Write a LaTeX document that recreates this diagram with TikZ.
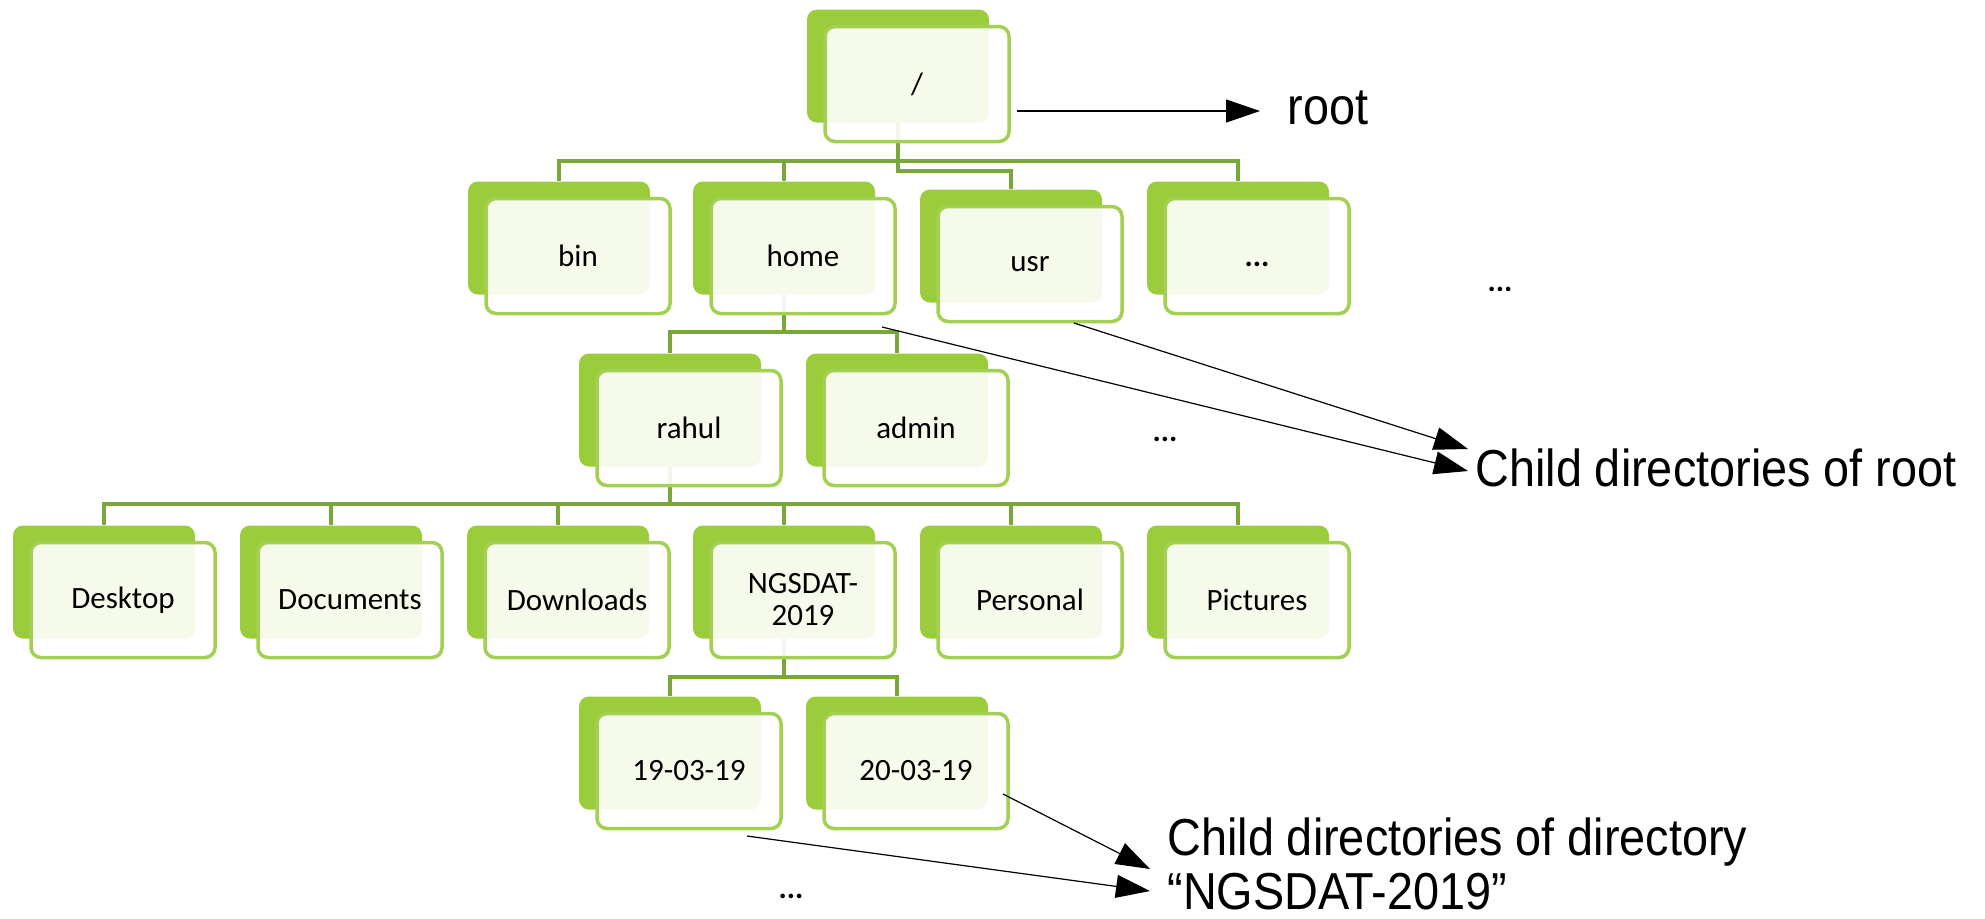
\documentclass[tikz,border=0pt]{standalone}
\usepackage{fontspec}
\setmainfont{Liberation Sans}
\newfontfamily\carlito{Carlito}
\newfontfamily\annot[FakeStretch=0.9]{Liberation Sans}
\usetikzlibrary{arrows.meta,backgrounds}
\definecolor{backgreen}{RGB}{155,204,60}
\definecolor{bordergreen}{RGB}{163,207,82}
\definecolor{linegreen}{RGB}{122,168,56}
\tikzset{
  backbox/.style={fill=backgreen, rounded corners=5pt, minimum width=91pt, minimum height=56.5pt, inner sep=0pt},
  frontbox/.style={draw=bordergreen, line width=1.75pt, fill=white, fill opacity=0.9, text opacity=1,
    rounded corners=5pt, minimum width=92pt, minimum height=57.5pt, inner sep=0pt, align=center,
    font=\carlito\fontsize{15.5}{16}\selectfont},
  conn/.style={draw=linegreen, line width=1.9pt},
  arr/.style={draw=black, line width=0.6pt, -{Triangle[length=17pt,width=11.5pt]}},
  annottext/.style={font=\annot\fontsize{26}{27}\selectfont, inner sep=0pt, align=left},
  dotstext/.style={font=\carlito\bfseries\fontsize{15.5}{16}\selectfont, inner sep=0pt}
}
\newcommand\folder[4]{%
  \node[backbox] (#1b) at ({#2-19},{#3-18}) {};
  \node[frontbox] (#1) at (#2,#3) {#4};
}
\begin{document}
\begin{tikzpicture}[x=0.5pt,y=-0.5pt]
\useasboundingbox (0,0) rectangle (1985,918);
% levels
\folder{root}{917}{84}{/}
\folder{bin}{578}{256}{bin}
\folder{home}{803}{256}{home}
\folder{usr}{1030}{264}{usr}
\folder{dotsa}{1257}{256}{\vphantom{bin}\textbf{...}}
\folder{rahul}{689}{428}{rahul}
\folder{admin}{916}{428}{admin}
\folder{desktop}{123}{600}{Desktop}
\folder{documents}{350}{600}{Documents}
\folder{downloads}{577}{600}{Downloads}
\folder{ngsdat}{803}{600}{NGSDAT-\\2019}
\folder{personal}{1030}{600}{Personal}
\folder{pictures}{1257}{600}{Pictures}
\folder{dayone}{689}{771}{19-03-19}
\folder{daytwo}{916}{771}{20-03-19}
% connectors
\coordinate (bara) at (0,161);
\coordinate (barusr) at (0,171);
\coordinate (barb) at (0,332);
\coordinate (barc) at (0,504);
\coordinate (bard) at (0,677);
\begin{scope}[on background layer]
\draw[conn] (binb.north) -- (binb.north |- bara) -| (dotsab.north);
\draw[conn] (homeb.north) -- (homeb.north |- bara);
\draw[conn] (rootb.south) |- (usrb.north |- barusr) -- (usrb.north);
\draw[conn] (homeb.south) -- (homeb.south |- barb);
\draw[conn] (rahulb.north) -- (rahulb.north |- barb) -| (adminb.north);
\draw[conn] (rahulb.south) -- (rahulb.south |- barc);
\draw[conn] (desktopb.north) -- (desktopb.north |- barc) -| (picturesb.north);
\foreach \n in {documents,downloads,ngsdat,personal}
  \draw[conn] (\n b.north) -- (\n b.north |- barc);
\draw[conn] (ngsdatb.south) -- (ngsdatb.south |- bard);
\draw[conn] (dayoneb.north) -- (dayoneb.north |- bard) -| (daytwob.north);
\end{scope}
% ellipses
\node[dotstext] (dotsb) at (1500,289) {...};
\node[dotstext] (dotsc) at (1165,439) {...};
\node[dotstext] (dotsd) at (791,896) {...};
% annotations
\node[annottext, anchor=west] (roottxt) at (1287,108) {root};
\node[annottext, anchor=west] (childroot) at (1475,468) {Child directories of root};
\node[annottext, anchor=west] (childngs) at (1167,864) {Child directories of directory\\“NGSDAT-2019”};
\coordinate (ra) at (1017,111);
\coordinate (rb) at (1260,111);
\coordinate (ca) at (1074,323);
\coordinate (cb) at (882,327);
\coordinate (cat) at (1468,449);
\coordinate (cbt) at (1468,471);
\coordinate (da) at (1003,794);
\coordinate (db) at (747,836);
\coordinate (dat) at (1150,869);
\coordinate (dbt) at (1150,891);
\draw[arr] (ra) -- (rb);
\draw[arr] (ca) -- (cat);
\draw[arr] (cb) -- (cbt);
\draw[arr] (da) -- (dat);
\draw[arr] (db) -- (dbt);
\end{tikzpicture}
\end{document}
